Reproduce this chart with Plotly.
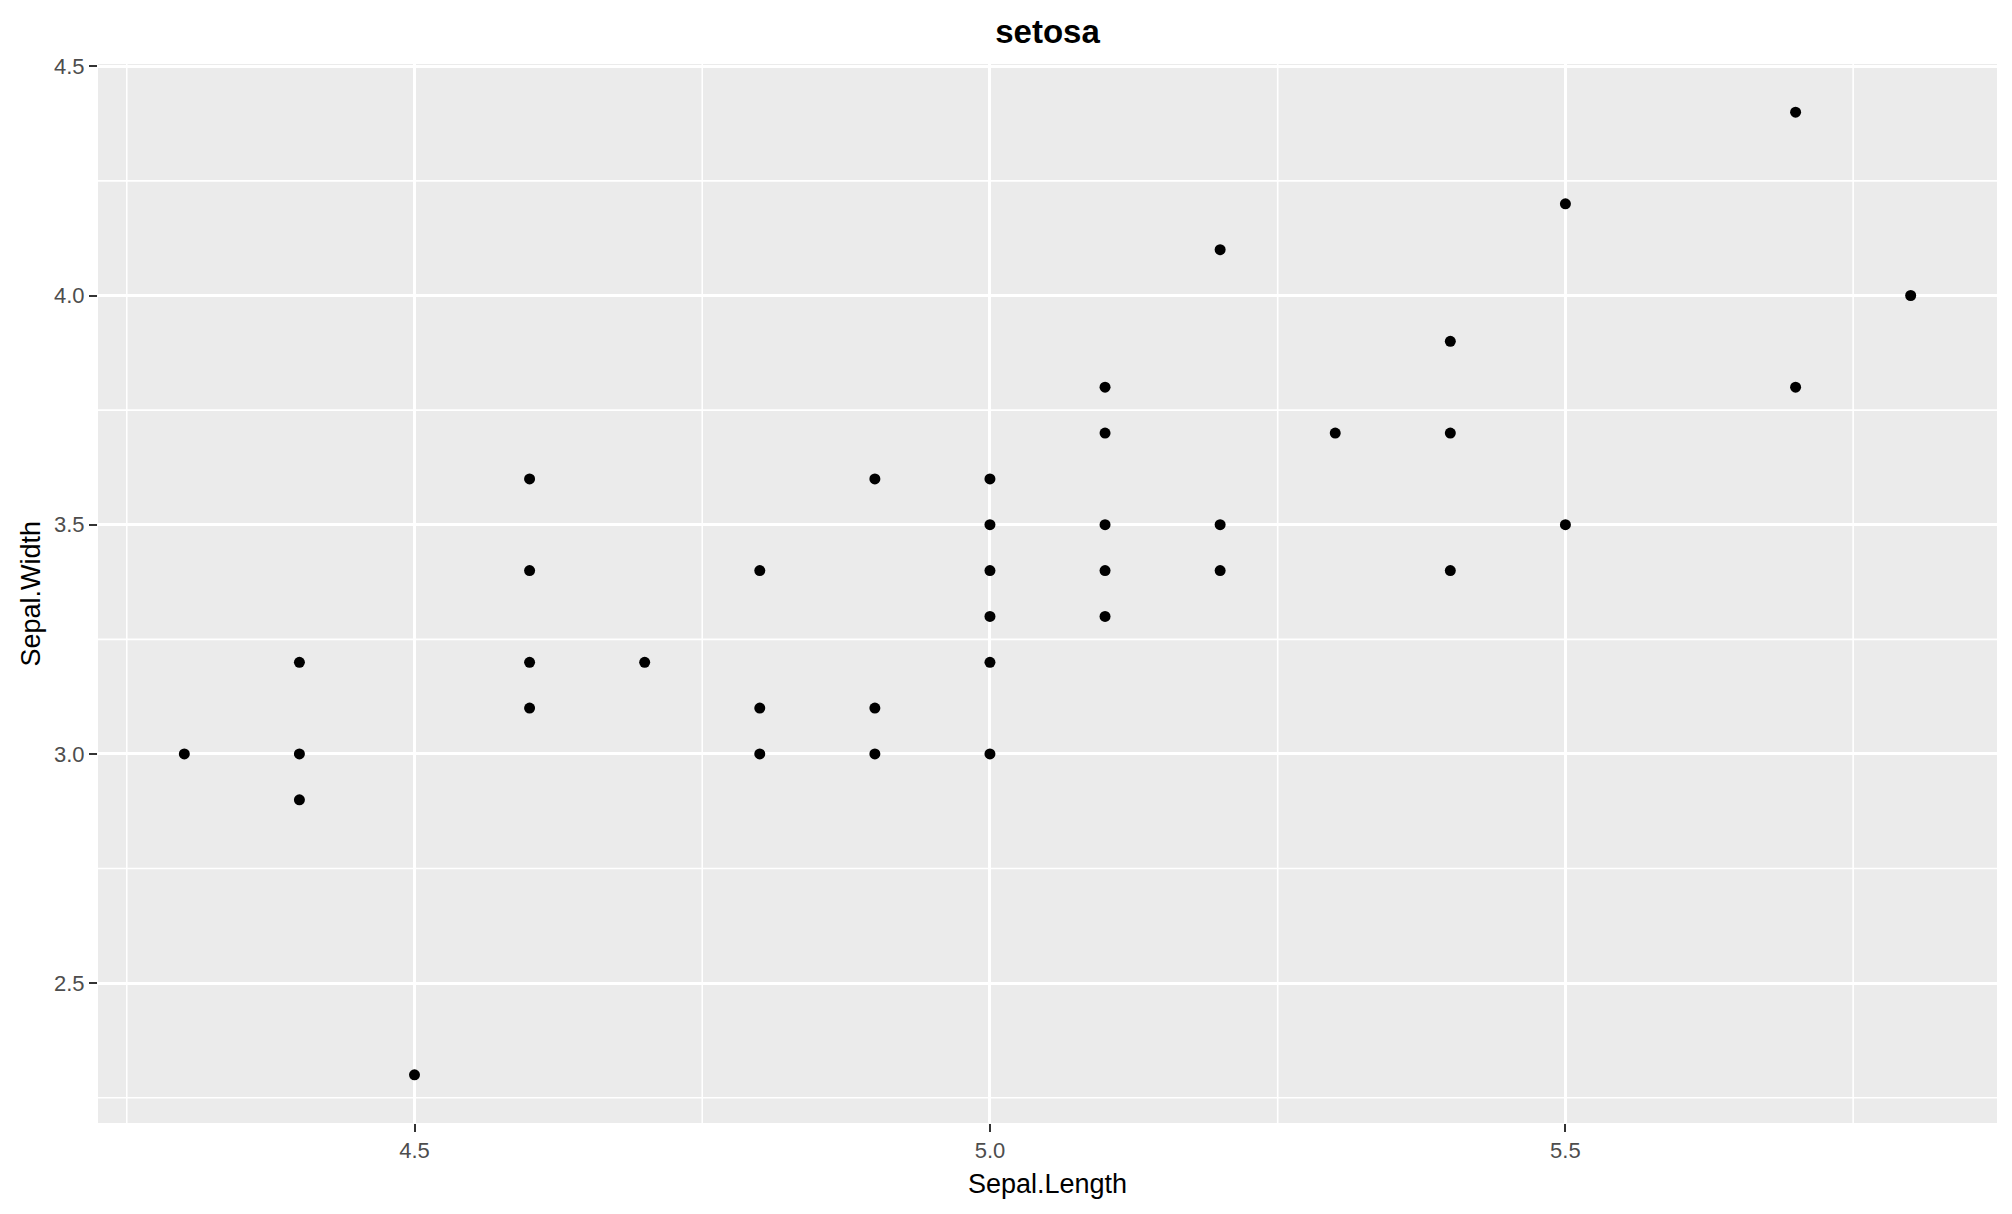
import plotly.graph_objects as go

# distinct setosa points visible in the chart
sepal_length = [4.3, 4.4, 4.4, 4.4, 4.5, 4.6, 4.6, 4.6, 4.6, 4.7,
                4.8, 4.8, 4.8, 4.9, 4.9, 4.9,
                5.0, 5.0, 5.0, 5.0, 5.0, 5.0,
                5.1, 5.1, 5.1, 5.1, 5.1,
                5.2, 5.2, 5.2, 5.3, 5.4, 5.4, 5.4,
                5.5, 5.5, 5.7, 5.7, 5.8]
sepal_width = [3.0, 3.2, 3.0, 2.9, 2.3, 3.6, 3.4, 3.2, 3.1, 3.2,
               3.4, 3.1, 3.0, 3.6, 3.1, 3.0,
               3.6, 3.5, 3.4, 3.3, 3.2, 3.0,
               3.8, 3.7, 3.5, 3.4, 3.3,
               4.1, 3.5, 3.4, 3.7, 3.9, 3.7, 3.4,
               4.2, 3.5, 4.4, 3.8, 4.0]

x_ticks = [4.5, 5.0, 5.5]
x_tick_labels = ['4.5', '5.0', '5.5']
y_ticks = [2.5, 3.0, 3.5, 4.0, 4.5]
y_tick_labels = ['2.5', '3.0', '3.5', '4.0', '4.5']

# ggplot default 5% expansion
xr = (min(sepal_length), max(sepal_length))
yr = (min(sepal_width), max(sepal_width))
xpad = (xr[1] - xr[0]) * 0.05
ypad = (yr[1] - yr[0]) * 0.05
x_range = [xr[0] - xpad, xr[1] + xpad]
y_range = [yr[0] - ypad, yr[1] + ypad]

panel_bg = '#EBEBEB'
font_fam = 'Liberation Sans, Arial, sans-serif'

# page body has an 8px margin, so the figure is a bit smaller than the window
W, H = 1996, 1198

fig = go.Figure()

# minor grid lines (half-way between majors), drawn as shapes under the data
for v in [4.25, 4.75, 5.25, 5.75]:
    fig.add_shape(type='line', xref='x', yref='paper', x0=v, x1=v, y0=0, y1=1,
                  line=dict(color='white', width=1.6), layer='below')
for v in [2.25, 2.75, 3.25, 3.75, 4.25]:
    fig.add_shape(type='line', xref='paper', yref='y', x0=0, x1=1, y0=v, y1=v,
                  line=dict(color='white', width=1.6), layer='below')

fig.add_trace(go.Scatter(
    x=sepal_length, y=sepal_width, mode='markers',
    marker=dict(color='black', size=11, line=dict(width=0)),
    showlegend=False, hoverinfo='x+y',
))

fig.update_layout(
    width=W, height=H,
    paper_bgcolor='white', plot_bgcolor=panel_bg,
    margin=dict(l=90, r=7, t=56, b=83),
    font=dict(family=font_fam, color='black'),
    title=dict(text='<b>setosa</b>', x=0.5, xref='paper', xanchor='center',
               y=1 - 23 / H, yref='container', yanchor='middle',
               font=dict(size=33, color='black', family=font_fam)),
    xaxis=dict(
        range=x_range, tickvals=x_ticks, ticktext=x_tick_labels,
        showgrid=True, gridcolor='white', gridwidth=3, zeroline=False,
        ticks='outside', ticklen=8, tickwidth=1.5, tickcolor='#333333',
        tickfont=dict(size=22, color='#4D4D4D'), showline=False,
    ),
    yaxis=dict(
        range=y_range, tickvals=y_ticks, ticktext=y_tick_labels,
        showgrid=True, gridcolor='white', gridwidth=3, zeroline=False,
        ticks='outside', ticklen=8, tickwidth=1.5, tickcolor='#333333',
        tickfont=dict(size=22, color='#4D4D4D'), showline=False,
    ),
    annotations=[
        dict(text='Sepal.Length', xref='paper', yref='paper', x=0.5, y=0,
             yshift=-61, xanchor='center', yanchor='middle', showarrow=False,
             font=dict(size=27, color='black')),
        dict(text='Sepal.Width', xref='paper', yref='paper', x=0, y=0.5,
             xshift=-68, textangle=-90, xanchor='center', yanchor='middle',
             showarrow=False, font=dict(size=27, color='black')),
    ],
)

fig.write_html('out.html')
